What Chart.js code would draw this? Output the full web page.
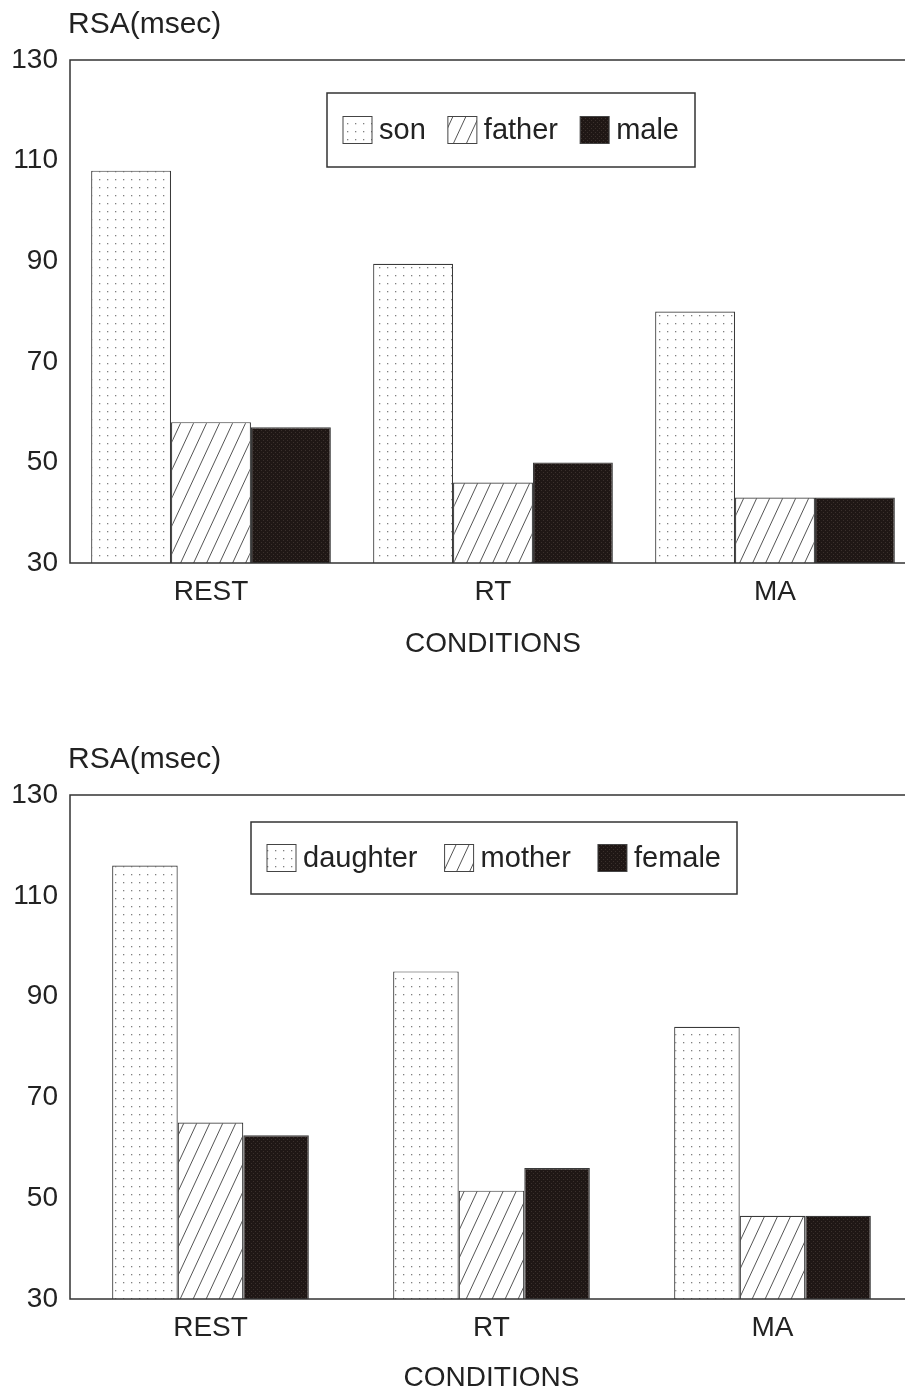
<!DOCTYPE html>
<html>
<head>
<meta charset="utf-8">
<title>RSA by condition</title>
<script src="https://cdn.jsdelivr.net/npm/chart.js@4.4.1/dist/chart.umd.min.js"></script>
<style>
  html, body { margin: 0; padding: 0; background: #fff; overflow: hidden; }
  #page { position: relative; width: 905px; height: 1392px; overflow: hidden; }
  .plot { position: absolute; left: 0; }
  #topPlot { top: 0; }
  #bottomPlot { top: 735px; }
</style>
</head>
<body>
<div id="page">
  <canvas id="topPlot" class="plot" width="930" height="680"></canvas>
  <canvas id="bottomPlot" class="plot" width="930" height="657"></canvas>
</div>
<script>
const conditions = ['REST', 'RT', 'MA'];
const yTicks = [30, 50, 70, 90, 110, 130];

// top panel
const son = [108, 89.5, 80];
const father = [58, 46, 43];
const male = [57, 50, 43];

// bottom panel
const daughter = [116, 95, 84];
const mother = [65, 51.5, 46.5];
const female = [62.5, 56, 46.5];

const ink = '#222';
const fontFamily = "'Liberation Sans', Arial, Helvetica, sans-serif";

// fill patterns like the printed figure
function makePattern(kind) {
    const c = document.createElement('canvas');
    const ctx = c.getContext('2d');
    if (kind === 'dots') {
        c.width = 8; c.height = 8;
        ctx.fillStyle = '#fff';
        ctx.fillRect(0, 0, 8, 8);
        ctx.fillStyle = '#808080';
        ctx.fillRect(3, 3, 1.3, 1.3);
    } else if (kind === 'hatch') {
        const w = 13, h = 28;
        c.width = w; c.height = h;
        ctx.fillStyle = '#fff';
        ctx.fillRect(0, 0, w, h);
        ctx.strokeStyle = '#555';
        ctx.lineWidth = 1;
        [-w, 0, w].forEach(off => {
            ctx.beginPath();
            ctx.moveTo(off, h);
            ctx.lineTo(off + w, 0);
            ctx.stroke();
        });
    } else {
        c.width = 4; c.height = 4;
        ctx.fillStyle = '#1f1715';
        ctx.fillRect(0, 0, 4, 4);
        ctx.fillStyle = '#3a302c';
        ctx.fillRect(1, 2, 1, 1);
        ctx.fillRect(3, 0, 1, 1);
    }
    return ctx.createPattern(c, 'repeat');
}

const frameAndLegend = {
    id: 'frameAndLegend',
    afterDatasetsDraw(chart, args, opts) {
        const { ctx, chartArea: a } = chart;
        ctx.save();
        // plot frame (left, top, bottom)
        ctx.strokeStyle = '#333';
        ctx.lineWidth = 1.5;
        ctx.strokeRect(a.left, a.top, a.right - a.left, a.bottom - a.top);

        // y unit label
        ctx.fillStyle = ink;
        ctx.font = `30px ${fontFamily}`;
        ctx.textBaseline = 'middle';
        ctx.textAlign = 'left';
        ctx.fillText(opts.unit, a.left - 2, a.top - 35);

        // boxed legend
        const bx = a.left + opts.box[0], by = a.top + opts.box[1];
        const bw = opts.box[2], bh = opts.box[3];
        ctx.lineWidth = 1.5;
        ctx.strokeRect(bx, by, bw, bh);
        ctx.font = `29px ${fontFamily}`;
        const sw = 29, sh = 27, gap = 7, pad = 16;
        const ds = chart.data.datasets;
        const widths = ds.map(d => sw + gap + ctx.measureText(d.label).width);
        const spare = (bw - 2 * pad - widths.reduce((s, v) => s + v, 0)) / (ds.length - 1);
        let x = bx + pad;
        const cy = by + bh / 2;
        ds.forEach((d, i) => {
            ctx.fillStyle = d.backgroundColor;
            ctx.fillRect(x, cy - sh / 2, sw, sh);
            ctx.strokeStyle = '#444';
            ctx.lineWidth = 1;
            ctx.strokeRect(x, cy - sh / 2, sw, sh);
            ctx.fillStyle = ink;
            ctx.fillText(d.label, x + sw + gap, cy + 1);
            x += widths[i] + spare;
        });
        ctx.restore();
    }
};

function drawPanel(canvasId, labels, series, legendBox, pct, rightPad, axisHeight) {
    const fills = [makePattern('dots'), makePattern('hatch'), makePattern('solid')];
    return new Chart(document.getElementById(canvasId), {
        type: 'bar',
        data: {
            labels: conditions,
            datasets: series.map((values, i) => ({
                label: labels[i],
                data: values,
                backgroundColor: fills[i],
                borderColor: '#3a3a3a',
                borderWidth: 1.2,
                borderSkipped: 'bottom',
                categoryPercentage: pct,
                barPercentage: 1
            }))
        },
        options: {
            responsive: false,
            animation: false,
            layout: { padding: { top: 60, left: 0, right: rightPad, bottom: 0 } },
            plugins: {
                legend: { display: false },
                tooltip: { enabled: false },
                frameAndLegend: { unit: 'RSA(msec)', box: legendBox }
            },
            scales: {
                x: {
                    grid: { display: false },
                    border: { display: false },
                    ticks: { color: ink, padding: 4, font: { family: fontFamily, size: 28 } },
                    title: {
                        display: true,
                        text: 'CONDITIONS',
                        color: ink,
                        font: { family: fontFamily, size: 28, lineHeight: 1 },
                        padding: { top: 0, bottom: axisHeight.titleBottom }
                    },
                    afterFit: s => { s.height = axisHeight.h; }
                },
                y: {
                    min: yTicks[0],
                    max: yTicks[yTicks.length - 1],
                    afterBuildTicks: s => { s.ticks = yTicks.map(v => ({ value: v })); },
                    grid: { display: false },
                    border: { display: false },
                    ticks: { color: ink, padding: 4, font: { family: fontFamily, size: 28 } },
                    afterFit: s => { s.width = 70; }
                }
            }
        },
        plugins: [frameAndLegend]
    });
}

drawPanel('topPlot', ['son', 'father', 'male'], [son, father, male],
    [257, 33, 368, 74], 0.85, 14, { h: 117, titleBottom: 22 });

drawPanel('bottomPlot', ['daughter', 'mother', 'female'], [daughter, mother, female],
    [181, 27, 486, 72], 0.70, 17, { h: 93, titleBottom: 0 });
</script>
</body>
</html>
